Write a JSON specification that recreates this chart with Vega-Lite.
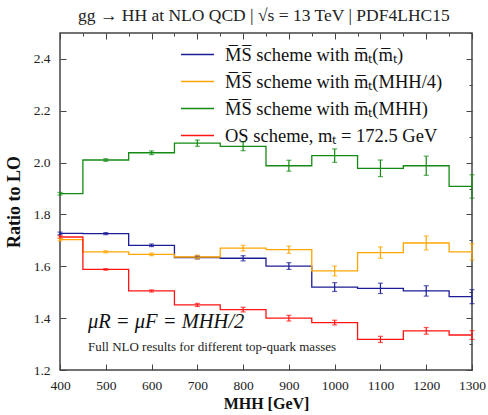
{
  "$schema": "https://vega.github.io/schema/vega-lite/v6.json",
  "autosize": "none",
  "width": 412,
  "height": 337,
  "padding": {"left": 60, "top": 33, "right": 16, "bottom": 45},
  "background": "white",
  "config": {
    "font": "Liberation Serif",
    "view": {"stroke": "#444", "strokeWidth": 1.5},
    "axis": {"domain": false, "grid": false, "tickColor": "#444", "labelColor": "#222", "labelFont": "Liberation Serif", "labelFontSize": 13.5, "labelFlush": false, "titleFont": "Liberation Serif", "titleColor": "#111"},
    "legend": {"labelFont": "Liberation Serif"}
  },
  "title": {"text": "gg → HH at NLO QCD | √s = 13 TeV | PDF4LHC15", "font": "Liberation Serif", "fontSize": 17.5, "fontWeight": "normal", "color": "#222", "offset": 8, "frame": "group", "anchor": "start", "dx": 18},
  "datasets": {
    "d": [
      {"s": "M̅S̅ scheme with m̅ₜ(m̅ₜ)", "x": 400, "v": 1.727, "lo": 1.722, "hi": 1.732},
      {"s": "M̅S̅ scheme with m̅ₜ(m̅ₜ)", "x": 500, "v": 1.726, "lo": 1.722, "hi": 1.730},
      {"s": "M̅S̅ scheme with m̅ₜ(m̅ₜ)", "x": 600, "v": 1.681, "lo": 1.676, "hi": 1.686},
      {"s": "M̅S̅ scheme with m̅ₜ(m̅ₜ)", "x": 700, "v": 1.634, "lo": 1.628, "hi": 1.640},
      {"s": "M̅S̅ scheme with m̅ₜ(m̅ₜ)", "x": 800, "v": 1.631, "lo": 1.621, "hi": 1.641},
      {"s": "M̅S̅ scheme with m̅ₜ(m̅ₜ)", "x": 900, "v": 1.601, "lo": 1.588, "hi": 1.614},
      {"s": "M̅S̅ scheme with m̅ₜ(m̅ₜ)", "x": 1000, "v": 1.520, "lo": 1.503, "hi": 1.537},
      {"s": "M̅S̅ scheme with m̅ₜ(m̅ₜ)", "x": 1100, "v": 1.515, "lo": 1.495, "hi": 1.535},
      {"s": "M̅S̅ scheme with m̅ₜ(m̅ₜ)", "x": 1200, "v": 1.505, "lo": 1.485, "hi": 1.525},
      {"s": "M̅S̅ scheme with m̅ₜ(m̅ₜ)", "x": 1300, "v": 1.483, "lo": 1.456, "hi": 1.510},
      {"s": "M̅S̅ scheme with m̅ₜ(MHH/4)", "x": 400, "v": 1.703, "lo": 1.698, "hi": 1.708},
      {"s": "M̅S̅ scheme with m̅ₜ(MHH/4)", "x": 500, "v": 1.656, "lo": 1.652, "hi": 1.660},
      {"s": "M̅S̅ scheme with m̅ₜ(MHH/4)", "x": 600, "v": 1.646, "lo": 1.641, "hi": 1.651},
      {"s": "M̅S̅ scheme with m̅ₜ(MHH/4)", "x": 700, "v": 1.636, "lo": 1.629, "hi": 1.643},
      {"s": "M̅S̅ scheme with m̅ₜ(MHH/4)", "x": 800, "v": 1.670, "lo": 1.659, "hi": 1.681},
      {"s": "M̅S̅ scheme with m̅ₜ(MHH/4)", "x": 900, "v": 1.664, "lo": 1.650, "hi": 1.678},
      {"s": "M̅S̅ scheme with m̅ₜ(MHH/4)", "x": 1000, "v": 1.582, "lo": 1.563, "hi": 1.601},
      {"s": "M̅S̅ scheme with m̅ₜ(MHH/4)", "x": 1100, "v": 1.653, "lo": 1.631, "hi": 1.675},
      {"s": "M̅S̅ scheme with m̅ₜ(MHH/4)", "x": 1200, "v": 1.690, "lo": 1.663, "hi": 1.717},
      {"s": "M̅S̅ scheme with m̅ₜ(MHH/4)", "x": 1300, "v": 1.656, "lo": 1.625, "hi": 1.687},
      {"s": "M̅S̅ scheme with m̅ₜ(MHH)", "x": 400, "v": 1.880, "lo": 1.875, "hi": 1.885},
      {"s": "M̅S̅ scheme with m̅ₜ(MHH)", "x": 500, "v": 2.010, "lo": 2.005, "hi": 2.015},
      {"s": "M̅S̅ scheme with m̅ₜ(MHH)", "x": 600, "v": 2.038, "lo": 2.031, "hi": 2.045},
      {"s": "M̅S̅ scheme with m̅ₜ(MHH)", "x": 700, "v": 2.075, "lo": 2.063, "hi": 2.087},
      {"s": "M̅S̅ scheme with m̅ₜ(MHH)", "x": 800, "v": 2.063, "lo": 2.046, "hi": 2.080},
      {"s": "M̅S̅ scheme with m̅ₜ(MHH)", "x": 900, "v": 1.988, "lo": 1.967, "hi": 2.009},
      {"s": "M̅S̅ scheme with m̅ₜ(MHH)", "x": 1000, "v": 2.027, "lo": 2.001, "hi": 2.053},
      {"s": "M̅S̅ scheme with m̅ₜ(MHH)", "x": 1100, "v": 1.978, "lo": 1.946, "hi": 2.010},
      {"s": "M̅S̅ scheme with m̅ₜ(MHH)", "x": 1200, "v": 1.988, "lo": 1.951, "hi": 2.025},
      {"s": "M̅S̅ scheme with m̅ₜ(MHH)", "x": 1300, "v": 1.908, "lo": 1.863, "hi": 1.953},
      {"s": "OS scheme, mₜ = 172.5 GeV", "x": 400, "v": 1.713, "lo": 1.708, "hi": 1.718},
      {"s": "OS scheme, mₜ = 172.5 GeV", "x": 500, "v": 1.588, "lo": 1.585, "hi": 1.591},
      {"s": "OS scheme, mₜ = 172.5 GeV", "x": 600, "v": 1.505, "lo": 1.501, "hi": 1.509},
      {"s": "OS scheme, mₜ = 172.5 GeV", "x": 700, "v": 1.451, "lo": 1.445, "hi": 1.457},
      {"s": "OS scheme, mₜ = 172.5 GeV", "x": 800, "v": 1.433, "lo": 1.424, "hi": 1.442},
      {"s": "OS scheme, mₜ = 172.5 GeV", "x": 900, "v": 1.400, "lo": 1.389, "hi": 1.411},
      {"s": "OS scheme, mₜ = 172.5 GeV", "x": 1000, "v": 1.383, "lo": 1.374, "hi": 1.392},
      {"s": "OS scheme, mₜ = 172.5 GeV", "x": 1100, "v": 1.318, "lo": 1.306, "hi": 1.330},
      {"s": "OS scheme, mₜ = 172.5 GeV", "x": 1200, "v": 1.351, "lo": 1.338, "hi": 1.364},
      {"s": "OS scheme, mₜ = 172.5 GeV", "x": 1300, "v": 1.335, "lo": 1.318, "hi": 1.352}
    ],
    "notes": [{"t": "μR = μF = MHH/2"}],
    "notes2": [{"t": "Full NLO results for different top-quark masses"}]
  },
  "data": {"name": "d"},
  "layer": [
    {
      "layer": [
        {
          "mark": {"type": "line", "interpolate": "step", "strokeWidth": 1.3},
          "encoding": {
            "x": {"field": "x", "type": "quantitative", "scale": {"domain": [400, 1300], "nice": false},
              "axis": {"orient": "bottom", "values": [400,450,500,550,600,650,700,750,800,850,900,950,1000,1050,1100,1150,1200,1250,1300],
                "labelExpr": "datum.value % 100 === 0 ? format(datum.value, 'd') : ''",
                "tickSize": {"expr": "datum.value % 100 === 0 ? -6 : -3"},
                "labelPadding": 14, "title": "MHH [GeV]", "titleFontSize": 16, "titleFontWeight": "bold", "titlePadding": 4}},
            "y": {"field": "v", "type": "quantitative", "scale": {"domain": [1.2, 2.5], "nice": false, "zero": false},
              "axis": {"orient": "left", "values": [1.2,1.3,1.4,1.5,1.6,1.7,1.8,1.9,2.0,2.1,2.2,2.3,2.4,2.5],
                "labelExpr": "round(datum.value*10) % 2 === 0 ? format(datum.value, '.1f') : ''",
                "tickSize": {"expr": "round(datum.value*10) % 2 === 0 ? -6 : -3"},
                "labelPadding": 16, "title": "Ratio to LO", "titleFontSize": 18, "titleFontWeight": "bold", "titlePadding": 10}},
            "color": {"field": "s", "type": "nominal",
              "scale": {"domain": ["M̅S̅ scheme with m̅ₜ(m̅ₜ)", "M̅S̅ scheme with m̅ₜ(MHH/4)", "M̅S̅ scheme with m̅ₜ(MHH)", "OS scheme, mₜ = 172.5 GeV"],
                "range": ["#1c1c96", "#ffa500", "#138a13", "#ff1414"]},
              "legend": {"orient": "none", "legendX": 120, "legendY": 4, "title": null, "symbolType": "stroke", "symbolSize": 1089, "symbolStrokeWidth": 1.5, "labelFontSize": 18.5, "labelFont": "Liberation Serif", "labelColor": "#111", "labelOffset": 10, "labelLimit": 400, "rowPadding": -6}}
          }
        },
        {
          "mark": {"type": "rule", "strokeWidth": 1.2},
          "encoding": {
            "x": {"field": "x", "type": "quantitative"},
            "y": {"field": "lo", "type": "quantitative"},
            "y2": {"field": "hi"},
            "color": {"field": "s", "type": "nominal", "legend": null}
          }
        },
        {
          "mark": {"type": "tick", "orient": "horizontal", "size": 5, "thickness": 1.2},
          "encoding": {
            "x": {"field": "x", "type": "quantitative"},
            "y": {"field": "lo", "type": "quantitative"},
            "color": {"field": "s", "type": "nominal", "legend": null}
          }
        },
        {
          "mark": {"type": "tick", "orient": "horizontal", "size": 5, "thickness": 1.2},
          "encoding": {
            "x": {"field": "x", "type": "quantitative"},
            "y": {"field": "hi", "type": "quantitative"},
            "color": {"field": "s", "type": "nominal", "legend": null}
          }
        },
        {
          "data": {"name": "notes"},
          "mark": {"type": "text", "align": "left", "baseline": "middle", "fontSize": 20.5, "fontStyle": "italic", "font": "Liberation Serif", "color": "#111"},
          "encoding": {"x": {"datum": 461}, "y": {"datum": 1.385}, "text": {"field": "t"}}
        },
        {
          "data": {"name": "notes2"},
          "mark": {"type": "text", "align": "left", "baseline": "middle", "fontSize": 13, "font": "Liberation Serif", "color": "#222"},
          "encoding": {"x": {"datum": 461}, "y": {"datum": 1.29}, "text": {"field": "t"}}
        }
      ]
    },
    {
      "mark": {"type": "point", "opacity": 0},
      "encoding": {
        "x": {"field": "x", "type": "quantitative",
          "axis": {"orient": "top", "values": [400,450,500,550,600,650,700,750,800,850,900,950,1000,1050,1100,1150,1200,1250,1300], "labels": false, "title": null,
            "tickSize": {"expr": "datum.value % 100 === 0 ? -6 : -3"}}},
        "y": {"field": "v", "type": "quantitative",
          "axis": {"orient": "right", "values": [1.2,1.3,1.4,1.5,1.6,1.7,1.8,1.9,2.0,2.1,2.2,2.3,2.4,2.5], "labels": false, "title": null,
            "tickSize": {"expr": "round(datum.value*10) % 2 === 0 ? -6 : -3"}}}
      }
    }
  ],
  "resolve": {"axis": {"x": "independent", "y": "independent"}}
}
